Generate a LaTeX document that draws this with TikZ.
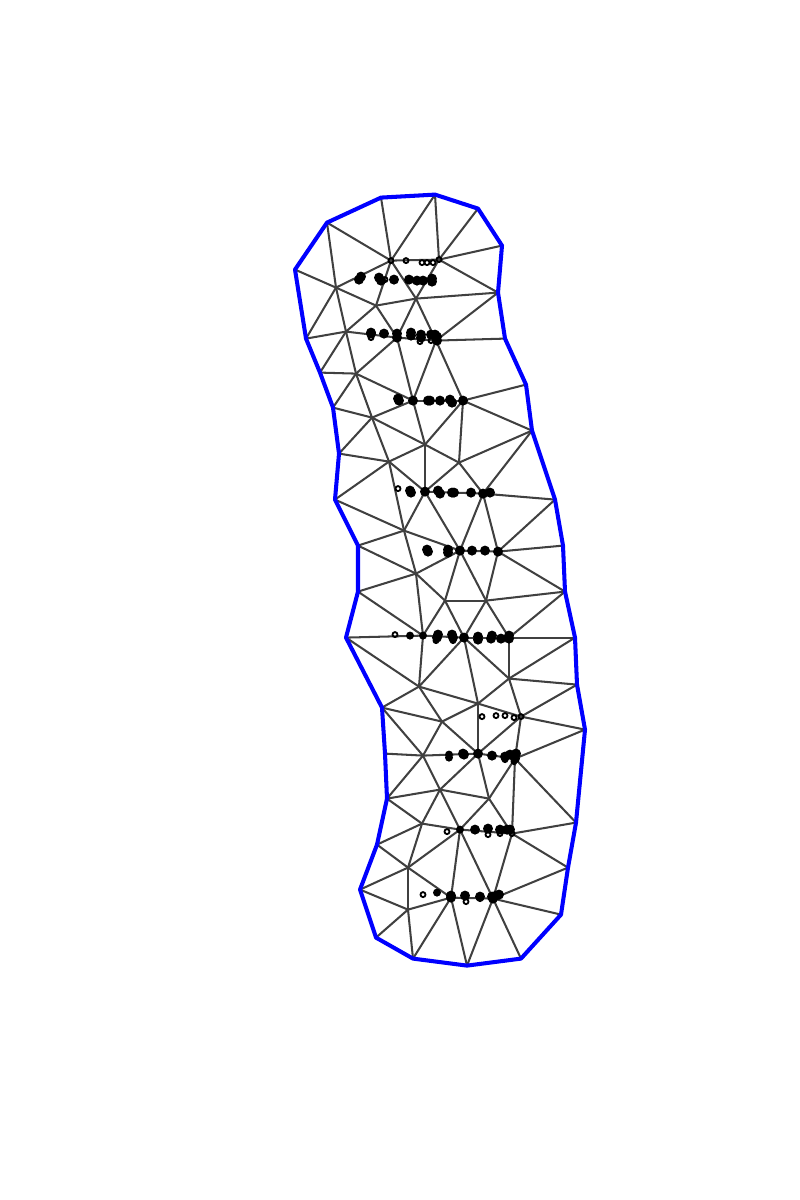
\documentclass[tikz,border=0pt]{standalone}
\usepackage{xcolor}
\usepackage{tikz}
\definecolor{hullblue}{RGB}{0,0,255}
\definecolor{meshgray}{RGB}{64,64,64}
\tikzset{
  hull/.style={draw=hullblue,line width=1.15pt,line join=round},
  meshline/.style={draw=meshgray,line width=0.58pt},
  solidhit/.style={circle,fill=black,inner sep=0pt,minimum size=0.1cm},
  smallhit/.style={circle,fill=black,inner sep=0pt,minimum size=0.08cm},
  openhit/.style={circle,draw=black,fill=none,line width=0.52pt,inner sep=0pt,minimum size=0.05cm}
}

\begin{document}
\begin{tikzpicture}[x=0.01cm,y=-0.01cm]
\useasboundingbox (0,-0.6) rectangle (800,1199.4);

% boundary corners
\foreach \x/\y [count=\n] in {327/222,381/197,435/194,478/208,502/245,498/292,505/338,526/384,532/430,555/499,563/545,565/591,575/637,577/684,585/729,576/822,568/867,561/914,521/958,467/965,413/958,376/937,360/889,377/844,387/798,385/753,382/707,346/637,358/591,358/545,335/499,339/453,333/407,320/372,306/338,295/269}
  \coordinate (b\n) at (\x,\y);

% inner corners
\foreach \x/\y [count=\n] in {391/260,439/259,336/287,416/298,376/305,346/331,397/337,436/340,356/373,413/400,463/400,372/417,425/444,459/462,389/461,425/491,483/493,404/530,460/550,498/551,416/573,445/600,486/600,423/635,464/637,509/637,509/678,419/686,478/703,442/721,521/716,423/755,478/753,515/758,440/789,489/798,422/823,460/829,512/833,408/867,408/909,451/897,493/898}
  \coordinate (v\n) at (\x,\y);

% mesh
\foreach \a/\b in {b2/v1,b3/v1,b3/v2,b4/v2,b5/v2,b6/v2,v1/v2,b1/v1,b1/v3,b36/v3,v3/v1,v1/v5,v1/v4,v2/v4,v4/v5,v4/b6,v3/v5,v3/b35,v3/v6,v5/v6,v6/b35,v6/b34,v6/v7,v5/v7,v4/v7,v4/v8,v7/v8,b6/v8,b7/v8,b8/v11,v8/v10,v8/v11,v7/v10,v7/v9,v6/v9,v9/b34,v9/b33,v9/v10,v9/v12,v10/v11,v10/v12,b33/v12,v11/b9,v11/v14,v11/v13,v10/v13,v12/v13,v12/b32,v12/v15,v15/b32,v13/v15,v13/v14,v14/b9,v13/v16,v14/v16,v14/v17,v17/b9,v17/b10,v15/v18,v15/v16,b31/v15,v16/v18,v16/v19,v16/v17,v17/v19,v17/v20,v18/b31,v18/v19,v18/b30,v18/v21,b30/v21,b29/v21,v21/v19,v19/v20,v19/v22,v19/v23,v20/v23,v20/b11,v20/b12,v20/b10,v21/v22,v21/v24,v22/v24,v22/v25,v22/v23,v23/v25,v23/v26,v23/b12,b12/v26,b13/v26,b13/v27,b14/v27,v26/v27,v24/b29,v24/b28,v24/v25,v25/v26,v24/v28,v25/v28,b28/v28,v25/v29,v25/v27,v27/v29,v27/v31,v28/v29,v28/b27,v28/v30,v30/v29,b27/v30,b27/v32,v30/v32,v30/v33,v29/v33,v29/v31,b14/v31,v31/b15,v31/v33,v31/v34,b15/v34,v33/v34,b26/v32,v32/v33,v33/v35,v33/v36,v34/v36,v34/v39,v34/b16,v32/v35,v32/b25,b25/v35,v35/v36,v35/v37,v35/v38,v36/v38,v36/v39,b25/v37,b24/v37,v37/v38,v37/v40,v38/v40,v38/v39,v38/v42,v38/v43,v39/v43,v39/b16,v39/b17,b24/v40,b23/v40,b23/v41,v40/v41,v40/v42,v41/v42,v42/v43,b17/v43,b18/v43,b19/v43,b20/v43,b20/v42,b21/v42,b21/v41,b22/v41}
  \draw[meshline] (\a) -- (\b);

% outer boundary
\draw[hull] (b1) \foreach \n in {2,...,36} { -- (b\n) } -- cycle;

% solid hits
\foreach \x/\y [count=\n] in {359/279,361/276,379/277,381/280,394/279,409/279,417/280,423/280,432/278,432/281,
  371/332,371/333,384/333,397/333,397/337,411/332,411/335,421/334,421/337,431/334,435/334,437/336,437/340,
  398/398,399/400,413/400,428/400,430/400,440/400,450/399,452/402,463/400,
  410/490,411/492,425/491,438/490,440/493,452/492,454/492,471/492,483/493,490/492,
  427/549,428/551,448/549,448/552,460/550,472/550,485/550,498/551,
  438/634,437/637,452/634,453/637,464/637,478/636,478/639,492/635,491/638,501/638,509/635,509/638,
  463/753,464/754,478/753,492/755,505/756,510/754,516/753,515/758,
  475/829,488/828,500/829,507/829,510/829,
  451/895,451/897,465/895,480/896,492/896,493/898,496/895,499/894}
  \node[solidhit] (s\n) at (\x,\y) {};

% smaller solid hits
\foreach \x/\y [count=\n] in {410/635,423/635,449/754,449/757,460/829,437/892}
  \node[smallhit] (t\n) at (\x,\y) {};

% open hits
\foreach \x/\y [count=\n] in {391/260,406/260,422/262,427/262,433/262,439/259,385/279,
  371/337,420/341,431/340,453/403,398/488,
  395/634,436/640,453/640,
  482/716,496/715,505/715,514/717,521/716,505/759,514/761,
  447/831,488/834,500/833,512/833,
  423/894,466/901,480/898}
  \node[openhit] (h\n) at (\x,\y) {};
\end{tikzpicture}
\end{document}
